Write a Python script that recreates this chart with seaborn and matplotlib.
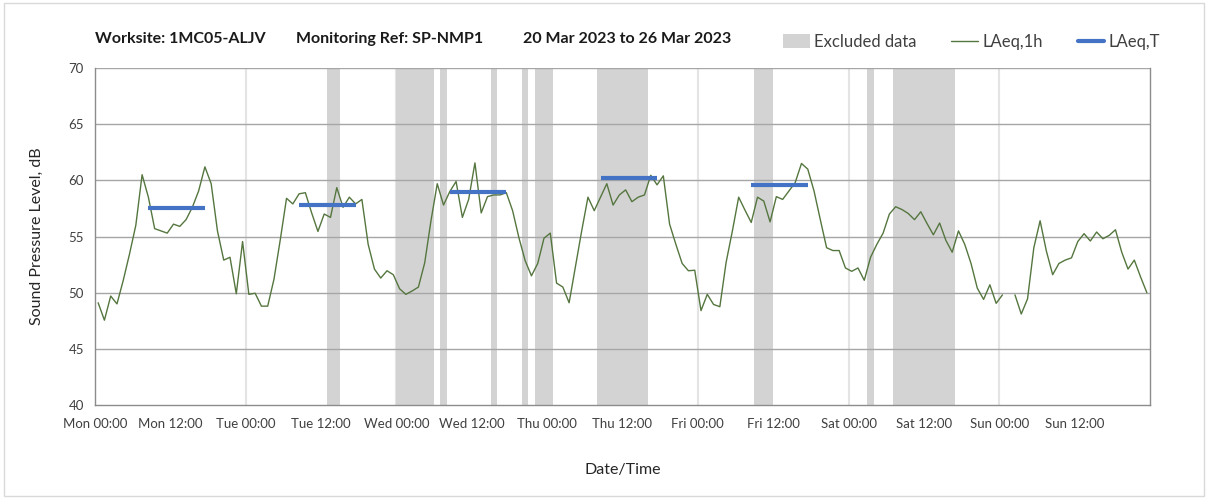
import numpy as np
import pandas as pd
import matplotlib
matplotlib.use("Agg")
import matplotlib.pyplot as plt
from matplotlib.patches import Patch, Rectangle
from matplotlib.lines import Line2D
import seaborn as sns

# ---------------- data ----------------
title_parts = ["Worksite: 1MC05-ALJV", "Monitoring Ref: SP-NMP1", "20 Mar 2023 to 26 Mar 2023"]
tick_labels = ["Mon 00:00", "Mon 12:00", "Tue 00:00", "Tue 12:00", "Wed 00:00", "Wed 12:00",
               "Thu 00:00", "Thu 12:00", "Fri 00:00", "Fri 12:00", "Sat 00:00", "Sat 12:00",
               "Sun 00:00", "Sun 12:00"]

# hourly LAeq,1h values (hour index 0 = Mon 00:00); NaN = missing
laeq_1h = [
    49.1, 47.55, 49.7, 49.0, 51.1, 53.45, 56.0, 60.5, 58.5, 55.7, 55.5, 55.3,
    56.1, 55.9, 56.5, 57.6, 59.05, 61.2, 59.7, 55.5, 52.9, 53.15, 49.9, 54.55,
    49.85, 49.95, 48.8, 48.8, 51.2, 54.7, 58.4, 57.9, 58.8, 58.9, 57.1, 55.45,
    57.0, 56.7, 59.35, 57.6, 58.5, 57.9, 58.3, 54.3, 52.1, 51.3, 51.95, 51.6,
    50.35, 49.85, 50.15, 50.5, 52.65, 56.4, 59.7, 57.8, 59.0, 59.9, 56.7, 58.3,
    61.55, 57.1, 58.55, 58.7, 58.7, 58.9, 57.3, 54.9, 52.85, 51.5, 52.6, 54.85,
    55.3, 50.85, 50.5, 49.1, 52.3, 55.5, 58.5, 57.3, 58.5, 59.7, 57.8, 58.7,
    59.15, 58.1, 58.5, 58.7, 60.45, 59.6, 60.4, 56.1, 54.3, 52.6, 51.95, 52.0,
    48.4, 49.85, 48.95, 48.75, 52.7, 55.5, 58.5, 57.35, 56.25, 58.5, 58.15, 56.3,
    58.55, 58.3, 59.05, 59.8, 61.5, 61.0, 59.05, 56.5, 54.0, 53.75, 53.75, 52.2,
    51.9, 52.2, 51.1, 53.15, 54.3, 55.3, 57.0, 57.65, 57.4, 57.05, 56.5, 57.2,
    56.15, 55.15, 56.2, 54.65, 53.6, 55.5, 54.3, 52.6, 50.4, 49.4, 50.7, 49.05,
    49.8, np.nan, 49.8, 48.1, 49.45, 54.0, 56.4, 53.7, 51.6, 52.6, 52.9, 53.1,
    54.55, 55.25, 54.6, 55.4, 54.8, 55.1, 55.6, 53.6, 52.1, 52.9, 51.4, 50.0,
]

# excluded-data periods, hours from Mon 00:00 (start, end)
excluded_start = [37, 48, 55, 63, 68, 70, 80, 105, 123, 127]
excluded_end = [39, 54, 56, 64, 69, 73, 88, 108, 124, 137]

# LAeq,T daytime periods (start hour, end hour, level)
laeqT_start = [8.5, 32.5, 56.5, 80.5, 104.5]
laeqT_end = [17.5, 41.5, 65.5, 89.5, 113.5]
laeqT_level = [57.5, 57.8, 58.95, 60.2, 59.6]

# ---------------- build frames ----------------
hours = np.arange(len(laeq_1h)) + 0.5
vals = np.array(laeq_1h, dtype=float)
seg = np.cumsum(np.isnan(vals))
df = pd.DataFrame({"t": hours, "v": vals, "seg": seg}).dropna()

rows = []
for k, (s, e, lv) in enumerate(zip(laeqT_start, laeqT_end, laeqT_level)):
    rows.append({"t": s, "v": lv, "seg": k})
    rows.append({"t": e, "v": lv, "seg": k})
dfT = pd.DataFrame(rows)

# ---------------- plot ----------------
sns.set_theme(style="white")
plt.rcParams["font.family"] = ["Lato", "DejaVu Sans"]

W, H = 1208, 499
fig = plt.figure(figsize=(W / 100, H / 100), dpi=100)
ax = fig.add_axes([95 / W, 1 - 405 / H, (1150 - 95) / W, (405 - 68) / H])

green = "#55763f"
blue = "#4472C4"
shade = "#d3d3d3"

for s, e in zip(excluded_start, excluded_end):
    ax.axvspan(s, e, color=shade, lw=0, zorder=1)

sns.lineplot(data=df, x="t", y="v", units="seg", estimator=None, color=green,
             lw=1.0, ax=ax, zorder=3, legend=False)
sns.lineplot(data=dfT, x="t", y="v", units="seg", estimator=None, color=blue,
             lw=3.0, ax=ax, zorder=4, legend=False, solid_capstyle="butt")

ax.set_xlim(0, 168)
ax.set_ylim(40, 70)
ax.set_yticks(np.arange(40, 71, 5))
ax.set_xticks(np.arange(0, 168, 12))
ax.set_xticklabels(tick_labels)

# grids
for yv in np.arange(45, 71, 5):
    ax.axhline(yv, color="#a6a6a6", lw=1.0, zorder=2)
for d in range(24, 168, 24):
    ax.axvline(d, color="#e4e4e4", lw=1.5, zorder=0.5)

for sp in ["left", "bottom", "right"]:
    ax.spines[sp].set_color("#8c8c8c")
    ax.spines[sp].set_linewidth(1.0)
ax.spines["top"].set_visible(False)

ax.tick_params(axis="both", direction="out", length=5, width=1, color="#8c8c8c",
               labelsize=9.5, labelcolor="#404040", pad=3)
ax.tick_params(axis="x", pad=4)

ax.set_xlabel("Date/Time", fontsize=11.5, color="#262626")
ax.set_ylabel("Sound Pressure Level, dB", fontsize=11.5, color="#262626")
ax.xaxis.set_label_coords(0.5, (405 - 463) / 337)
ax.yaxis.set_label_coords((44 - 95) / 1055, 0.5)

# title parts
tx = [95, 296, 523]
for x0, txt in zip(tx, title_parts):
    fig.text(x0 / W, 1 - 39 / H, txt, fontsize=11.5, fontweight="bold",
             color="#1a1a1a", va="center", ha="left")

# legend
handles = [Patch(facecolor=shade, edgecolor="none"),
           Line2D([0], [0], color=green, lw=1.0),
           Line2D([0], [0], color=blue, lw=3.0)]
labels = ["Excluded data", "LAeq,1h", "LAeq,T"]
fig.legend(handles, labels, loc="center left", bbox_to_anchor=(768 / W, 1 - 42 / H),
           ncol=3, frameon=False, fontsize=12, handlelength=1.6, handleheight=0.9,
           handletextpad=0.25, columnspacing=2.1, labelcolor="#404040")

# chart-area border
fig.patches.append(Rectangle((4 / W, 3 / H), 1 - 8 / W, 1 - 6 / H, transform=fig.transFigure,
                             fill=False, edgecolor="#d9d9d9", lw=1.0))

fig.savefig("out.png", dpi=100)
